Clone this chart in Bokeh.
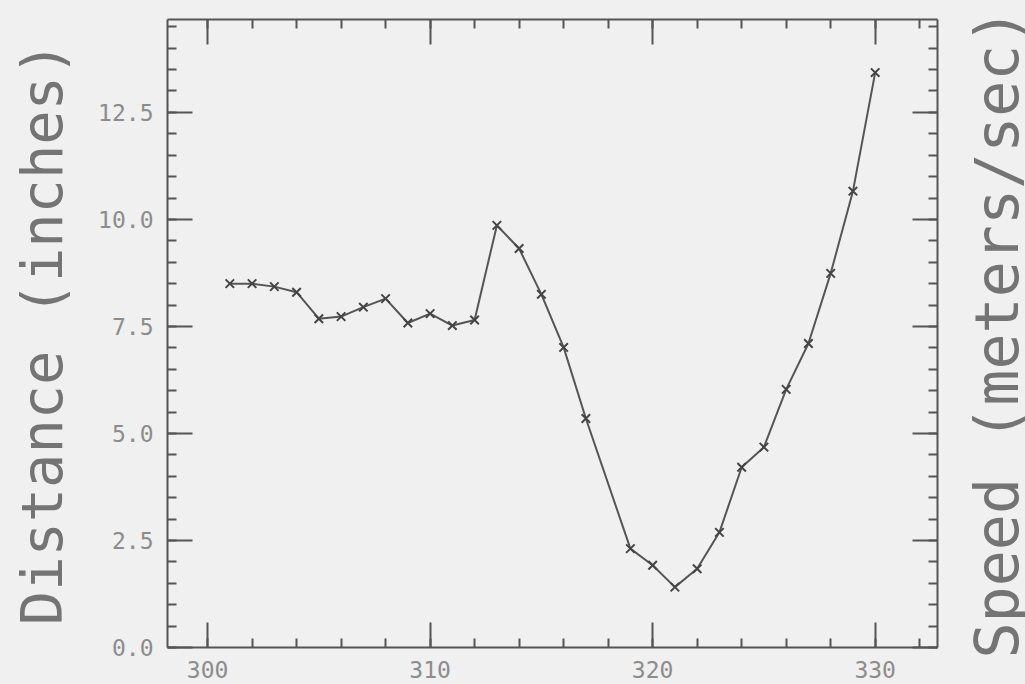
from bokeh.plotting import figure
from bokeh.layouts import row
from bokeh.models import (Range1d, LinearAxis, SingleIntervalTicker, PrintfTickFormatter,
                          CustomJSTickFormatter, ColumnDataSource)
from bokeh.embed import file_html
from bokeh.resources import INLINE

# ---- data ----
time_x = [301, 302, 303, 304, 305, 306, 307, 308, 309, 310,
          311, 312, 313, 314, 315, 316, 317, 319, 320, 321,
          322, 323, 324, 325, 326, 327, 328, 329, 330]
distance = [8.50, 8.50, 8.43, 8.30, 7.68, 7.73, 7.95, 8.15, 7.58, 7.80,
            7.52, 7.65, 9.86, 9.32, 8.25, 7.01, 5.35, 2.31, 1.92, 1.41,
            1.84, 2.69, 4.21, 4.68, 6.03, 7.10, 8.74, 10.66, 13.43]
left_label = "Distance (inches)"
right_label = "Speed (meters/sec)"

BG = "#f0f0f0"
INK = "#555555"
TXT = "#8c8c8c"
LBL = "#747474"
FONT = "DejaVu Sans Mono"

blank = CustomJSTickFormatter(code="return ''")

p = figure(width=939, height=684, output_backend="svg", toolbar_location=None,
           x_range=Range1d(298.2, 332.8), y_range=Range1d(0, 14.67),
           x_axis_location=None, y_axis_location=None,
           background_fill_color=BG, border_fill_color=BG,
           min_border_left=167, min_border_right=2, min_border_top=19, min_border_bottom=37)
p.outline_line_color = None
p.xgrid.visible = False
p.ygrid.visible = False

def style(ax, show_labels):
    ax.axis_line_color = INK
    ax.axis_line_width = 2
    ax.major_tick_line_color = INK
    ax.major_tick_line_width = 2
    ax.minor_tick_line_color = INK
    ax.minor_tick_line_width = 2
    ax.major_tick_in = 25
    ax.major_tick_out = 0
    ax.minor_tick_in = 9
    ax.minor_tick_out = 0
    ax.major_label_text_color = TXT
    ax.major_label_text_font = FONT
    ax.major_label_text_font_size = "23px"
    if not show_labels:
        ax.formatter = blank
        ax.major_label_standoff = 0
    ax.axis_label_text_font = FONT
    ax.axis_label_text_font_style = "normal"
    ax.axis_label_text_color = LBL

xt = SingleIntervalTicker(interval=10, num_minor_ticks=5)
yt = SingleIntervalTicker(interval=2.5, num_minor_ticks=5)

bottom = LinearAxis(ticker=xt)
style(bottom, True)
bottom.major_label_standoff = 13
top = LinearAxis(ticker=xt)
style(top, False)
left = LinearAxis(ticker=yt, formatter=PrintfTickFormatter(format="%.1f"), axis_label=left_label)
style(left, True)
left.major_label_standoff = 14
left.axis_label_standoff = 20
left.axis_label_text_font_size = "57px"
right = LinearAxis(ticker=yt)
style(right, False)

p.add_layout(bottom, "below")
p.add_layout(top, "above")
p.add_layout(left, "left")
p.add_layout(right, "right")

src = ColumnDataSource(dict(x=time_x, y=distance))
p.line("x", "y", source=src, line_color=INK, line_width=2)
p.scatter("x", "y", source=src, marker="x", size=12, line_color="#444444", line_width=2)

# narrow companion figure carrying the right-hand label (reads bottom to top)
p2 = figure(width=86, height=684, output_backend="svg", toolbar_location=None,
            x_range=Range1d(0, 1), y_range=Range1d(0, 14.67),
            x_axis_location=None, y_axis_location=None,
            background_fill_color=BG, border_fill_color=BG,
            min_border_left=84, min_border_right=0, min_border_top=19, min_border_bottom=37)
p2.outline_line_color = None
p2.xgrid.visible = False
p2.ygrid.visible = False
lab = LinearAxis(ticker=yt, formatter=blank, axis_label=right_label)
lab.axis_line_color = None
lab.major_tick_line_color = None
lab.minor_tick_line_color = None
lab.major_tick_in = 0
lab.major_tick_out = 0
lab.minor_tick_in = 0
lab.minor_tick_out = 0
lab.major_label_standoff = 0
lab.axis_label_standoff = -8
lab.axis_label_text_font = FONT
lab.axis_label_text_font_style = "normal"
lab.axis_label_text_font_size = "60px"
lab.axis_label_text_color = LBL
p2.add_layout(lab, "left")

layout = row(p, p2, spacing=0, styles={"background-color": BG})
open("out.html", "w").write(file_html(layout, INLINE))
